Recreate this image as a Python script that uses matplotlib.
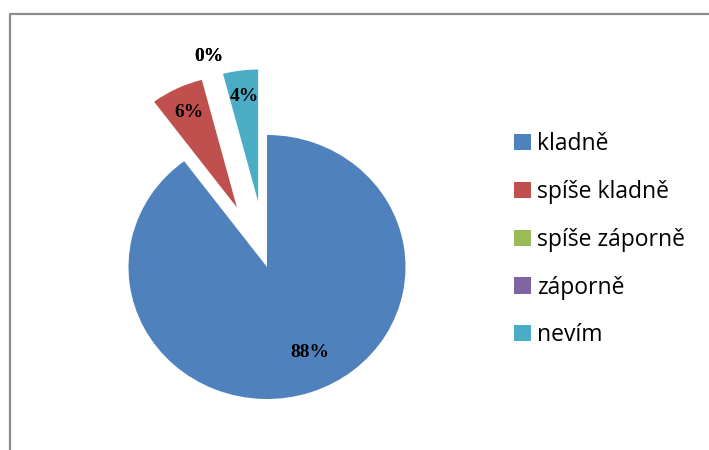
import numpy as np
import matplotlib
matplotlib.use('Agg')
import matplotlib.pyplot as plt
from matplotlib.patches import Patch
from matplotlib.lines import Line2D

# answers and their shares (labels as shown in the chart, in %)
categories = ['kladně', 'spíše kladně', 'spíše záporně', 'záporně', 'nevím']
values = [88, 6, 0, 0, 4]
colors = ['#4F81BD', '#C0504D', '#9BBB59', '#8064A2', '#4BACC6']
explode = [0, 0.5, 0.5, 0.5, 0.5]

W, H = 709, 450
fig = plt.figure(figsize=(W / 100, H / 100), dpi=100)

# pie is slightly wider than tall in the original, so axes are sized in pixels
rx, ry = 138.5, 132.0
cx, cy = 267, H - 267
xlim = (-1.3, 1.3)
ylim = (-1.1, 1.75)
ax_w = (xlim[1] - xlim[0]) * rx
ax_h = (ylim[1] - ylim[0]) * ry
ax = fig.add_axes([(cx + xlim[0] * rx) / W, (cy + ylim[0] * ry) / H, ax_w / W, ax_h / H])

wedges, _ = ax.pie(values, colors=colors, explode=explode, startangle=90,
                   counterclock=False, radius=1,
                   wedgeprops=dict(linewidth=0))
ax.set_aspect('auto')
ax.set_xlim(*xlim)
ax.set_ylim(*ylim)
ax.axis('off')

# percentage labels, placed from each wedge's own angle/centre
for w, v in zip(wedges, values):
    mid = np.deg2rad((w.theta1 + w.theta2) / 2)
    if v == 0:
        d = 1.15
    elif v > 50:
        d = 0.72
        mid += np.deg2rad(7)  # excel puts the big label a bit further right
    else:
        d = 0.8
    x = w.center[0] + d * np.cos(mid)
    y = w.center[1] + d * np.sin(mid)
    ax.text(x, y, f'{v}%', ha='center', va='center', fontsize=14,
            family='Liberation Serif', fontweight='bold', color='black')

handles = [Patch(facecolor=c, edgecolor='none') for c in colors]
fig.legend(handles, categories, loc='upper left', bbox_to_anchor=(514 / W, 1 - 132 / H),
           frameon=False, prop=dict(family='Open Sans', size=16.5),
           handlelength=0.73, handleheight=0.7, handletextpad=0.26,
           labelspacing=1.04, borderaxespad=0, borderpad=0)

# chart frame (only left and top edges visible in the crop)
fig.add_artist(Line2D([9.5 / W, 9.5 / W, 1.01], [-0.01, 1 - 14 / H, 1 - 14 / H],
                      transform=fig.transFigure, color='#8C8C8C', linewidth=1.6))

fig.savefig('out.png', dpi=100)
